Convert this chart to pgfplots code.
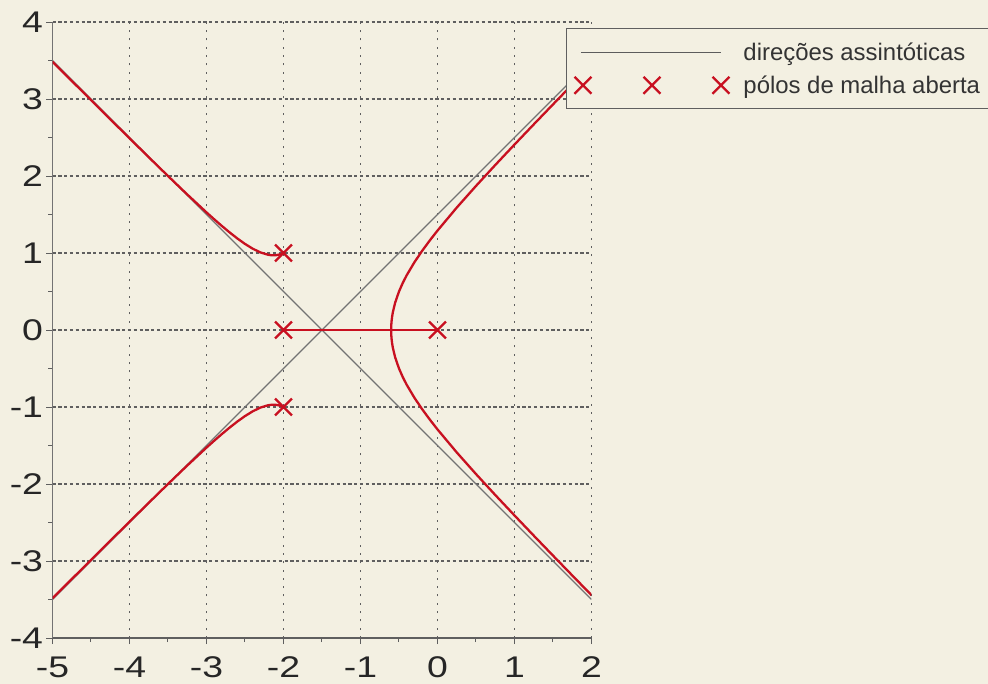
\documentclass[border=0pt]{standalone}
\usepackage{graphicx}
\usepackage{pgfplots}
\pgfplotsset{compat=1.18}
\usepackage{fontspec}
\setmainfont{Liberation Sans}

\definecolor{paper}{RGB}{243,240,226}
\definecolor{locus}{RGB}{200,16,32}
\definecolor{asym}{RGB}{115,115,115}
\definecolor{gridc}{RGB}{95,95,95}

% upper halves of the root-locus branches (lower halves are mirrored)
\pgfplotstableread{
x y
2 3.4434
1.75 3.1873
1.5 2.9297
1.25 2.6703
1 2.4083
0.75 2.1425
0.5 1.8708
0.25 1.5896
0 1.2910
-0.1 1.1631
-0.2 1.0273
-0.3 0.8794
-0.4 0.7110
-0.45 0.6134
-0.5 0.5
-0.55 0.3552
-0.58 0.2301
-0.59 0.1693
-0.595 0.1286
-0.598 0.0960
-0.6 0.0667
-0.6018 0
-0.6 -0.0667
-0.598 -0.0960
-0.595 -0.1286
-0.59 -0.1693
-0.58 -0.2301
-0.55 -0.3552
-0.5 -0.5
-0.45 -0.6134
-0.4 -0.7110
-0.3 -0.8794
-0.2 -1.0273
-0.1 -1.1631
0 -1.2910
0.25 -1.5896
0.5 -1.8708
0.75 -2.1425
1 -2.4083
1.25 -2.6703
1.5 -2.9297
1.75 -3.1873
2 -3.4434
}\rightbranch

\pgfplotstableread{
x y
-2 1
-2.05 0.9806
-2.1 0.9713
-2.15 0.9704
-2.2 0.9769
-2.3 1.0075
-2.4 1.0562
-2.5 1.1180
-2.6 1.1894
-2.7 1.2675
-2.8 1.3508
-2.9 1.4378
-3 1.5275
-3.25 1.7602
-3.5 2
-3.75 2.2438
-4 2.4900
-4.25 2.7376
-4.5 2.9861
-4.75 3.2352
-5 3.4847
}\leftupper

\pgfplotstableread{
x y
-2 -1
-2.05 -0.9806
-2.1 -0.9713
-2.15 -0.9704
-2.2 -0.9769
-2.3 -1.0075
-2.4 -1.0562
-2.5 -1.1180
-2.6 -1.1894
-2.7 -1.2675
-2.8 -1.3508
-2.9 -1.4378
-3 -1.5275
-3.25 -1.7602
-3.5 -2
-3.75 -2.2438
-4 -2.4900
-4.25 -2.7376
-4.5 -2.9861
-4.75 -3.2352
-5 -3.4847
}\leftlower

\begin{document}
\begin{tikzpicture}
\fill[paper] (0,0) rectangle (988bp,684bp);
\begin{axis}[
  at={(52.5bp,46bp)}, anchor=south west,
  scale only axis, width=539bp, height=616bp,
  xmin=-5, xmax=2, ymin=-4, ymax=4,
  axis x line*=bottom, axis y line*=left,
  x axis line style={draw=gridc, line width=1.4bp},
  y axis line style={draw=asym, line width=1.6bp},
  xtick={-5,-4,-3,-2,-1,0,1,2},
  ytick={-4,-3,-2,-1,0,1,2,3,4},
  minor x tick num=1, minor y tick num=1,
  tick align=outside,
  major tick length=6bp, minor tick length=4bp,
  tick style={gridc, line width=1bp},
  xmajorgrids, ymajorgrids,
  major x grid style={gridc, line width=1.2bp, dash pattern=on 2bp off 6.3bp},
  major y grid style={gridc, line width=1.1bp, dash pattern=on 3.2bp off 2.6bp},
  xticklabel={\scalebox{1.25}[1]{\pgfmathprintnumber[assume math mode=true]{\tick}}},
  yticklabel={\scalebox{1.25}[1]{\pgfmathprintnumber[assume math mode=true]{\tick}}},
  ticklabel style={font=\fontsize{30}{30}\selectfont, text=black!85},
  xticklabel style={yshift=-9bp},
  legend cell align=left,
  legend style={at={(0.9527,0.990)}, anchor=north west, draw=gridc, line width=1bp,
    fill=paper, text=black!80, font=\fontsize{24}{24}\selectfont,
    inner xsep=8bp, inner ysep=12bp, row sep=10bp,
    /tikz/every odd column/.append style={column sep=12bp}},
]
\addplot[asym, line width=1.1bp,
  legend image code/.code={\draw[asym!80!black, line width=1.1bp] (0bp,0bp) -- (140bp,0bp);}]
  coordinates {(-5,3.5) (2,-3.5)};
\addlegendentry{direções assintóticas}
\addplot[asym, line width=1.1bp, forget plot] coordinates {(-5,-3.5) (2,3.5)};

\addplot[locus, line width=2.3bp, forget plot] table {\rightbranch};
\addplot[locus, line width=2.3bp, forget plot] table {\leftupper};
\addplot[locus, line width=2.3bp, forget plot] table {\leftlower};
\addplot[locus, line width=2.3bp, forget plot] coordinates {(-2,0) (0,0)};

\addplot[locus, only marks, mark=x, mark size=12bp, line width=2.3bp,
  legend image code/.code={\draw[locus, line width=2.3bp]
    plot[only marks, mark=x, mark size=12bp] coordinates {(2bp,0bp) (71bp,0bp) (140bp,0bp)};}]
  coordinates {(0,0) (-2,0) (-2,1) (-2,-1)};
\addlegendentry{pólos de malha aberta}
\end{axis}
\pgfresetboundingbox
\path[use as bounding box] (0,0) rectangle (988bp,684bp);
\end{tikzpicture}
\end{document}
